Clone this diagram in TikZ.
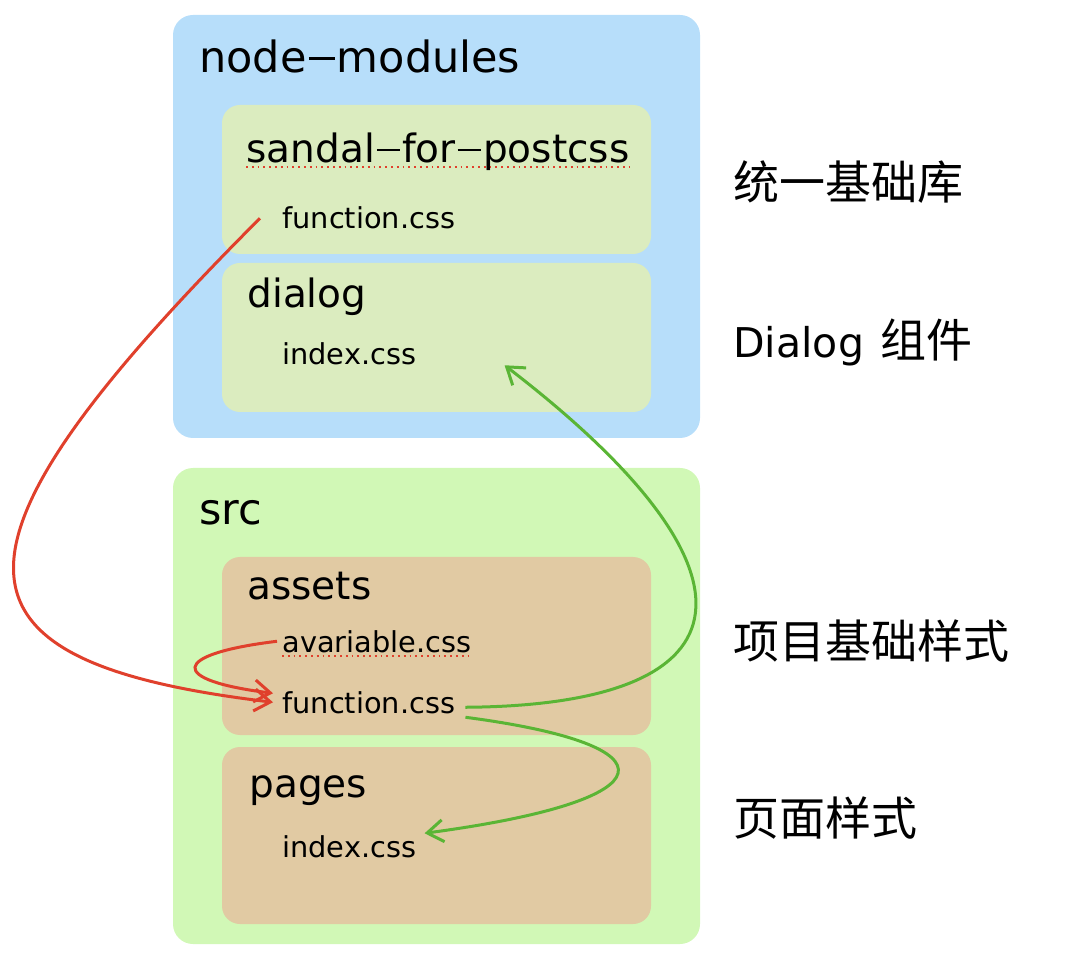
\documentclass[tikz,border=0pt]{standalone}
\usepackage{fontspec}
\usepackage{xcolor}
\setmainfont{DejaVu Sans}
\newfontfamily\cjk{Noto Sans CJK SC}
\usetikzlibrary{arrows.meta}

\definecolor{nmblue}{HTML}{B7DEFA}
\definecolor{pkggreen}{HTML}{DBECBF}
\definecolor{srcgreen}{HTML}{D1F8B6}
\definecolor{dirbrown}{HTML}{E1CAA3}
\definecolor{inkred}{HTML}{E0402C}
\definecolor{inkgreen}{HTML}{5AB535}

\newcommand{\longdash}{\kern0.05em\rule[0.3em]{0.6em}{0.065em}\kern0.05em}

\tikzset{
  outerbox/.style={rounded corners=10pt, inner sep=0pt, minimum width=263.5pt},
  innerbox/.style={rounded corners=9pt, inner sep=0pt, minimum width=214.5pt},
  toptitle/.style={font=\fontsize{21.5pt}{24pt}\selectfont, anchor=base west, inner sep=0pt},
  title/.style={font=\fontsize{19.5pt}{22pt}\selectfont, anchor=base west, inner sep=0pt},
  file/.style={font=\fontsize{14.4pt}{17pt}\selectfont, anchor=base west, inner sep=0pt},
  note/.style={font=\fontsize{23pt}{26pt}\selectfont\cjk, anchor=base west, inner sep=0pt},
  spell/.style={draw=inkred, dotted, line width=0.9pt},
  redink/.style={draw=inkred, line width=1.5pt, -{Straight Barb[length=8pt,width=11pt]}},
  greenink/.style={draw=inkgreen, line width=1.5pt, -{Straight Barb[length=8pt,width=11pt]}}
}

\begin{document}
\begin{tikzpicture}[x=0.5pt,y=-0.5pt]
\useasboundingbox (0,0) rectangle (1092,956);

% boxes
\node[outerbox, fill=nmblue, minimum height=211.5pt] (nodemod) at (436.5,226.5) {};
\node[innerbox, fill=pkggreen, minimum height=74.5pt] (sandalbox) at (436.5,179.5) {};
\node[innerbox, fill=pkggreen, minimum height=74.5pt] (dialogbox) at (436.5,337.5) {};
\node[outerbox, fill=srcgreen, minimum height=238pt] (srcbox) at (436.5,706) {};
\node[innerbox, fill=dirbrown, minimum height=89pt] (assetsbox) at (436.5,646) {};
\node[innerbox, fill=dirbrown, minimum height=88.5pt] (pagesbox) at (436.5,835.5) {};

% folder names
\node[toptitle] (nmtitle) at (199,73) {node\longdash modules};
\node[title] (sandal) at (246,163) {sandal\longdash for\longdash postcss};
\node[title] (dialog) at (247,308) {dialog};
\node[toptitle] (srctitle) at (199,525) {src};
\node[title] (assets) at (247,600) {assets};
\node[title] (pages) at (249,797) {pages};

% files
\node[file] (fnA) at (282,229) {function.css};
\node[file] (idxA) at (282,365) {index.css};
\node[file] (avar) at (282,652) {avariable.css};
\node[file] (fnB) at (282,713) {function.css};
\node[file] (idxB) at (282,857) {index.css};

\draw[spell] ([yshift=-2pt]sandal.base west) -- ([yshift=-2pt]sandal.base east);
\draw[spell] ([yshift=-2pt]avar.base west) -- ([yshift=-2pt]avar.base east);

% notes on the right
\node[note] (basenote) at (733,200) {统一基础库};
\node[note] (dialognote) at (733,358) {{\fontsize{20.5pt}{24pt}\selectfont\rmfamily Dialog}\kern3pt{} 组件};
\node[note] (projnote) at (733,658) {项目基础样式};
\node[note] (pagenote) at (733,835) {页面样式};

% imports
\draw[redink] ([xshift=-11pt]fnA.west) .. controls +(-340,340) and +(-333,-40) .. ([xshift=-4.5pt]fnB.west);
\draw[redink] ([xshift=-2.5pt]avar.west) .. controls +(-107,13) and +(-105,-13) .. ([xshift=-4.5pt,yshift=4.5pt]fnB.west);
\draw[greenink] ([xshift=5pt,yshift=-2.5pt]fnB.east) .. controls +(293,-2) and +(267,205) .. ([xshift=44pt,yshift=-5.5pt]idxA.east);
\draw[greenink] ([xshift=5pt,yshift=-7.5pt]fnB.east) .. controls +(213,28) and +(247,-33) .. ([xshift=4pt,yshift=6.5pt]idxB.east);
\end{tikzpicture}
\end{document}
